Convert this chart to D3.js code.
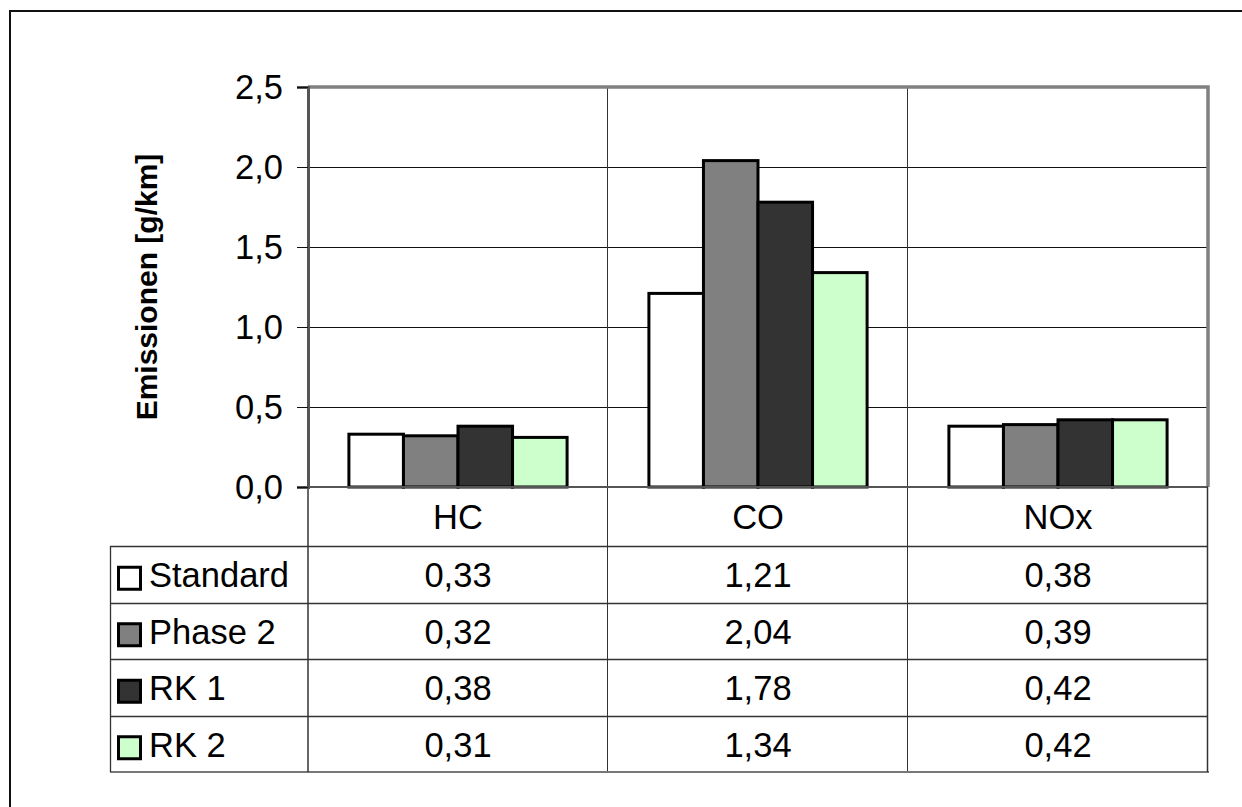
<!DOCTYPE html>
<html>
<head>
<meta charset="utf-8">
<script src="https://cdn.jsdelivr.net/npm/d3@7"></script>
<style>
  html, body { margin: 0; padding: 0; background: #fff; }
  svg { display: block; font-family: "Liberation Sans", Arial, sans-serif; }
</style>
</head>
<body>
<svg id="chart" width="1242" height="807"></svg>
<script>
// Emission categories (x axis) and test variants (series)
const categories = ["HC", "CO", "NOx"];
const seriesNames = ["Standard", "Phase 2", "RK 1", "RK 2"];
const standard = [0.33, 1.21, 0.38];
const phase2   = [0.32, 2.04, 0.39];
const rk1      = [0.38, 1.78, 0.42];
const rk2      = [0.31, 1.34, 0.42];
const seriesColors = ["#FFFFFF", "#808080", "#333333", "#CCFFCC"];
const yTicks = [0, 0.5, 1.0, 1.5, 2.0, 2.5];
const yTitle = "Emissionen [g/km]";

const seriesValues = [standard, phase2, rk1, rk2];
const series = seriesNames.map((name, i) => ({ name, color: seriesColors[i], values: seriesValues[i] }));

// German number formatting (decimal comma)
const de = d3.formatLocale({ decimal: ",", thousands: ".", grouping: [3], currency: ["", " €"] });
const fmt1 = de.format(".1f");
const fmt2 = de.format(".2f");

const svg = d3.select("#chart");

// Layout
const plot = { left: 308, right: 1208, top: 87, bottom: 487 };
const table = { left: 110, catRowBottom: 546, rowH: 56.5 };
const tableBottom = table.catRowBottom + table.rowH * series.length;
const fontSize = 34.5;

const x = d3.scaleBand().domain(categories).range([plot.left, plot.right]).padding(0);
const xs = d3.scaleBand().domain(seriesNames).range([0, x.bandwidth()])
  .paddingInner(0).paddingOuter(0.75);
const y = d3.scaleLinear().domain([0, 2.5]).range([plot.bottom, plot.top]);

// Outer chart frame (left and top edges)
svg.append("path")
  .attr("d", `M10,807 L10,11 L1242,11`)
  .attr("fill", "none").attr("stroke", "#111").attr("stroke-width", 2);

// Horizontal gridlines
svg.append("g").selectAll("line")
  .data(yTicks.filter(t => t > 0 && t < 2.5))
  .join("line")
  .attr("x1", plot.left).attr("x2", plot.right)
  .attr("y1", d => Math.round(y(d)) + 0.5).attr("y2", d => Math.round(y(d)) + 0.5)
  .attr("stroke", "#111").attr("stroke-width", 1);

// Category separators, running through the plot and the data table
svg.append("g").selectAll("line")
  .data(categories.slice(1))
  .join("line")
  .attr("x1", d => Math.round(x(d)) - 0.5).attr("x2", d => Math.round(x(d)) - 0.5)
  .attr("y1", plot.top).attr("y2", tableBottom)
  .attr("stroke", "#333").attr("stroke-width", 1);

// Plot area border (top and right)
svg.append("path")
  .attr("d", `M${plot.left},${plot.top} L${plot.right},${plot.top} L${plot.right},${plot.bottom}`)
  .attr("fill", "none").attr("stroke", "#808080").attr("stroke-width", 3.5);

// Bars
const groups = svg.append("g").selectAll("g")
  .data(series)
  .join("g");
groups.selectAll("rect")
  .data(s => categories.map((c, i) => ({ cat: c, value: s.values[i], name: s.name, color: s.color })))
  .join("rect")
  .attr("x", d => x(d.cat) + xs(d.name))
  .attr("width", xs.bandwidth())
  .attr("y", d => y(d.value))
  .attr("height", d => y(0) - y(d.value))
  .attr("fill", d => d.color)
  .attr("stroke", "#000").attr("stroke-width", 3);

// Data table grid
const tg = svg.append("g").attr("stroke", "#333").attr("fill", "none");
// zero line / table top
tg.append("line").attr("x1", plot.left - 11).attr("x2", plot.right)
  .attr("y1", plot.bottom).attr("y2", plot.bottom).attr("stroke-width", 2).attr("stroke", "#555");
const rowLines = d3.range(series.length).map(i => table.catRowBottom + i * table.rowH);
tg.selectAll("line.row").data(rowLines).join("line").attr("class", "row")
  .attr("x1", table.left).attr("x2", plot.right)
  .attr("y1", d => Math.round(d) + 0.5).attr("y2", d => Math.round(d) + 0.5)
  .attr("stroke-width", 1.3);
tg.append("line").attr("x1", table.left).attr("x2", plot.right + 1)
  .attr("y1", tableBottom).attr("y2", tableBottom).attr("stroke-width", 2).attr("stroke", "#777");
tg.append("line").attr("x1", table.left + 0.5).attr("x2", table.left + 0.5)
  .attr("y1", table.catRowBottom).attr("y2", tableBottom).attr("stroke-width", 1.3);
tg.append("line").attr("x1", plot.right - 0.5).attr("x2", plot.right - 0.5)
  .attr("y1", plot.bottom).attr("y2", tableBottom).attr("stroke-width", 1.5);
tg.append("line").attr("x1", plot.left).attr("x2", plot.left)
  .attr("y1", plot.bottom).attr("y2", tableBottom).attr("stroke-width", 1.5);

// Y axis
const yAxis = d3.axisLeft(y).tickValues(yTicks).tickFormat(fmt1).tickSize(11).tickPadding(14);
const ga = svg.append("g").attr("transform", `translate(${plot.left},0)`).call(yAxis);
ga.select(".domain").attr("stroke", "#555").attr("stroke-width", 3);
ga.selectAll(".tick line").attr("stroke", "#111").attr("stroke-width", 1);
ga.selectAll(".tick text")
  .attr("font-size", fontSize).attr("fill", "#000")
  .attr("font-family", "'Liberation Sans', Arial, sans-serif");

// Y axis title
svg.append("text")
  .attr("transform", `translate(157,${(plot.top + plot.bottom) / 2}) rotate(-90)`)
  .attr("text-anchor", "middle")
  .attr("font-size", 30).attr("font-weight", "bold")
  .text(yTitle);

// Category labels (table header row)
svg.append("g").selectAll("text")
  .data(categories)
  .join("text")
  .attr("x", d => x(d) + x.bandwidth() / 2)
  .attr("y", (plot.bottom + table.catRowBottom) / 2 + 12)
  .attr("text-anchor", "middle")
  .attr("font-size", fontSize)
  .text(d => d);

// Table rows: legend key, name, values
const rows = svg.append("g").selectAll("g")
  .data(series)
  .join("g")
  .attr("transform", (d, i) => `translate(0,${table.catRowBottom + i * table.rowH + table.rowH / 2})`);
rows.append("rect")
  .attr("x", 118.5).attr("y", -7).attr("width", 22).attr("height", 22)
  .attr("fill", d => d.color).attr("stroke", "#000").attr("stroke-width", 3);
rows.append("text")
  .attr("x", 149).attr("y", 13)
  .attr("font-size", fontSize)
  .text(d => d.name);
rows.selectAll("text.val")
  .data(d => d.values.map((v, i) => ({ v, cat: categories[i] })))
  .join("text").attr("class", "val")
  .attr("x", d => x(d.cat) + x.bandwidth() / 2)
  .attr("y", 13)
  .attr("text-anchor", "middle")
  .attr("font-size", fontSize)
  .text(d => fmt2(d.v));
</script>
</body>
</html>
